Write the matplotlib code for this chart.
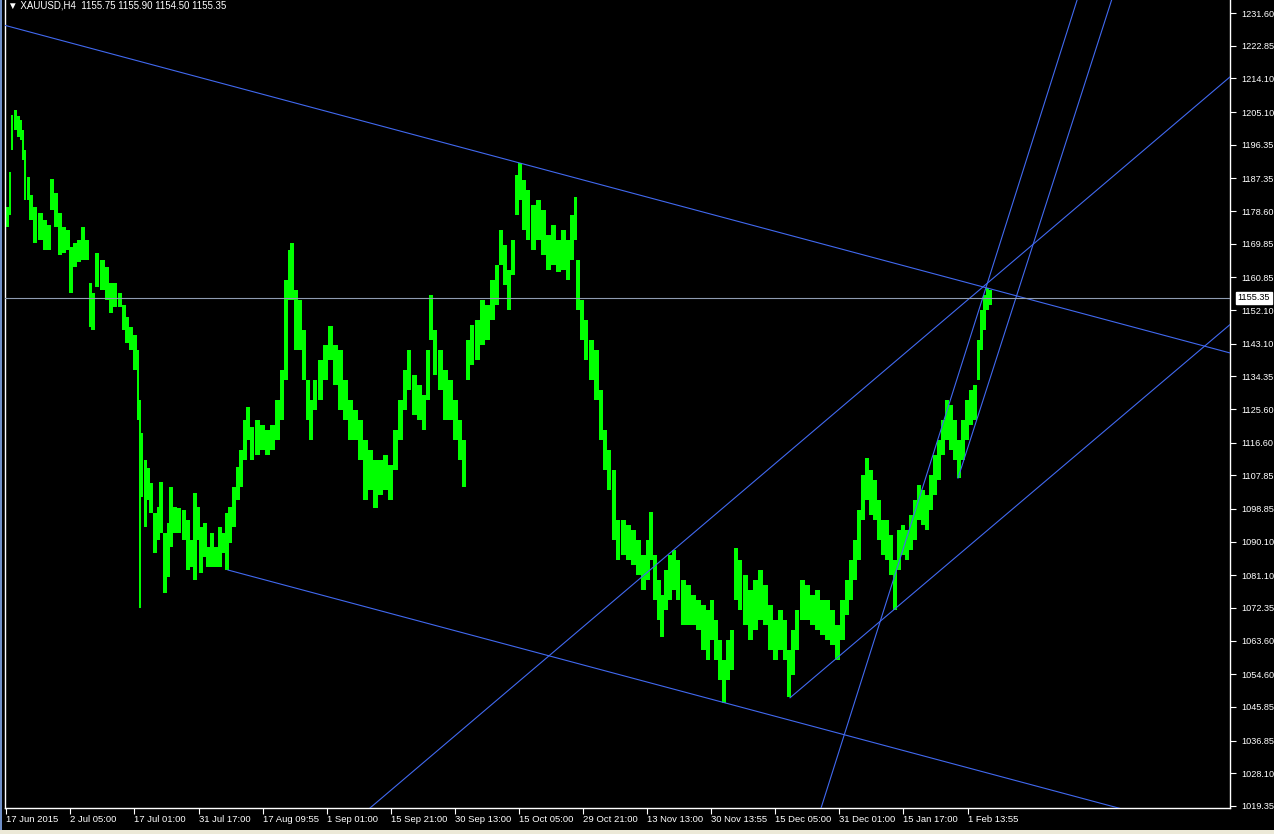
import numpy as np
import matplotlib
matplotlib.use('Agg')
import matplotlib.pyplot as plt
from matplotlib.patches import Rectangle

plt.rcParams['font.family'] = ['Liberation Sans', 'DejaVu Sans']

# bar position (chart pixel column), high and low of each bar group
bar_x = [7, 10, 12, 15, 18, 21, 23, 25, 28, 31, 35, 40, 45, 49, 52, 56, 60, 64, 68, 71,
         75, 79, 83, 87, 90, 93, 97, 102, 107, 111, 115, 120, 124, 127, 131, 135, 138, 140, 142, 145,
         148, 151, 155, 158, 161, 165, 168, 171, 175, 179, 184, 188, 191, 195, 198, 201, 205, 208, 212, 216,
         220, 223, 227, 230, 234, 238, 241, 245, 248, 252, 257, 262, 267, 272, 277, 282, 286, 289, 292, 296,
         300, 304, 308, 311, 315, 320, 325, 330, 335, 340, 345, 350, 355, 360, 365, 370, 375, 380, 385, 390,
         395, 400, 405, 409, 414, 419, 424, 428, 431, 435, 440, 445, 450, 455, 460, 464, 468, 472, 477, 482,
         487, 492, 497, 501, 505, 509, 513, 517, 520, 524, 528, 533, 538, 543, 548, 553, 558, 563, 568, 572,
         575, 578, 582, 586, 591, 596, 601, 605, 609, 614, 618, 623, 628, 633, 638, 643, 648, 651, 655, 659,
         662, 666, 670, 674, 678, 683, 688, 693, 698, 703, 708, 712, 716, 720, 724, 728, 732, 736, 740, 745,
         750, 755, 760, 765, 770, 775, 780, 785, 789, 793, 797, 802, 807, 812, 817, 822, 827, 832, 837, 842,
         847, 851, 855, 859, 863, 867, 871, 875, 879, 883, 887, 891, 895, 899, 903, 907, 911, 915, 919, 923,
         927, 931, 935, 939, 943, 947, 951, 955, 959, 963, 967, 971, 975, 978, 981, 984, 987, 990]
bar_high = [1179.7, 1189.0, 1204.3, 1205.6, 1204.0, 1203.0, 1200.3, 1194.9, 1187.7, 1182.9, 1179.7, 1178.1, 1176.2, 1174.9, 1187.2, 1183.4, 1178.1, 1174.3, 1173.5, 1169.0,
            1170.0, 1170.8, 1174.3, 1170.8, 1159.3, 1156.7, 1167.4, 1165.5, 1163.6, 1159.3, 1159.3, 1156.7, 1153.4, 1150.2, 1147.5, 1145.4, 1141.4, 1128.0, 1119.2, 1112.0,
            1109.8, 1105.8, 1097.8, 1099.4, 1106.1, 1092.4, 1095.1, 1104.7, 1099.4, 1099.1, 1098.6, 1095.9, 1090.5, 1103.1, 1099.4, 1094.0, 1095.1, 1088.7, 1092.4, 1088.7,
            1094.0, 1092.4, 1097.8, 1099.4, 1104.7, 1110.1, 1114.6, 1122.7, 1126.1, 1120.8, 1122.7, 1121.3, 1120.0, 1121.3, 1128.0, 1136.0, 1160.1, 1168.2, 1170.0, 1157.5,
            1154.8, 1146.7, 1133.4, 1128.0, 1133.4, 1138.7, 1142.7, 1147.7, 1142.7, 1141.4, 1133.4, 1128.0, 1125.3, 1122.7, 1117.3, 1114.6, 1112.0, 1112.0, 1113.3, 1110.6,
            1120.0, 1128.0, 1136.0, 1141.4, 1134.7, 1132.0, 1129.4, 1141.4, 1156.1, 1146.7, 1141.4, 1136.0, 1133.4, 1128.0, 1122.7, 1117.3, 1144.1, 1148.1, 1149.4, 1154.8,
            1153.4, 1160.1, 1164.1, 1173.5, 1169.5, 1162.8, 1170.8, 1188.2, 1191.5, 1186.9, 1184.2, 1180.2, 1181.5, 1178.9, 1172.2, 1174.9, 1170.8, 1173.5, 1170.8, 1177.5,
            1182.3, 1165.5, 1154.8, 1149.4, 1144.1, 1141.4, 1130.7, 1120.0, 1114.6, 1109.3, 1095.9, 1095.9, 1094.6, 1093.2, 1090.5, 1086.5, 1090.5, 1098.0, 1086.5, 1079.8,
            1075.8, 1082.5, 1086.5, 1087.9, 1085.2, 1079.8, 1078.5, 1075.8, 1074.5, 1073.1, 1071.8, 1074.5, 1069.2, 1063.8, 1058.5, 1063.8, 1066.5, 1088.4, 1085.2, 1081.2,
            1077.2, 1079.8, 1082.5, 1078.5, 1073.1, 1069.2, 1071.8, 1069.2, 1061.1, 1066.5, 1071.8, 1079.8, 1078.5, 1075.8, 1077.2, 1074.5, 1074.5, 1071.8, 1067.8, 1074.5,
            1079.8, 1085.2, 1090.5, 1098.6, 1107.9, 1112.5, 1109.3, 1106.6, 1101.3, 1095.9, 1095.9, 1091.9, 1085.2, 1093.2, 1094.6, 1093.2, 1097.2, 1101.3, 1105.3, 1103.9,
            1102.6, 1107.9, 1113.3, 1117.3, 1122.7, 1128.0, 1126.7, 1122.7, 1117.3, 1122.7, 1128.0, 1130.7, 1132.0, 1144.1, 1152.1, 1156.1, 1158.0, 1157.5]
bar_low = [1174.3, 1177.5, 1194.9, 1200.3, 1198.4, 1197.6, 1192.3, 1181.5, 1181.5, 1176.2, 1170.0, 1170.8, 1168.2, 1168.2, 1178.9, 1174.3, 1166.8, 1167.4, 1168.2, 1156.7,
           1163.6, 1165.0, 1165.5, 1165.5, 1147.5, 1146.7, 1158.3, 1157.5, 1154.8, 1151.3, 1152.9, 1152.9, 1146.7, 1143.3, 1141.4, 1136.0, 1122.7, 1072.3, 1102.1, 1094.0,
           1101.3, 1097.8, 1087.1, 1090.5, 1092.4, 1076.4, 1080.6, 1088.7, 1092.4, 1092.4, 1090.5, 1082.5, 1083.3, 1079.8, 1090.5, 1081.7, 1086.0, 1083.3, 1083.3, 1083.3,
           1083.3, 1087.1, 1082.5, 1089.7, 1094.0, 1101.3, 1104.7, 1112.0, 1117.3, 1112.0, 1113.3, 1114.6, 1113.3, 1114.6, 1117.3, 1122.7, 1133.4, 1154.8, 1154.8, 1141.4,
           1141.4, 1133.4, 1122.7, 1117.3, 1125.3, 1128.0, 1133.4, 1138.7, 1132.0, 1125.3, 1122.7, 1117.3, 1117.3, 1112.0, 1101.3, 1103.9, 1099.1, 1102.6, 1103.9, 1101.3,
           1109.3, 1117.3, 1125.3, 1130.7, 1124.0, 1122.7, 1120.0, 1128.0, 1144.1, 1134.7, 1130.7, 1122.7, 1122.7, 1117.3, 1112.0, 1104.7, 1133.4, 1137.4, 1138.7, 1142.7,
           1144.1, 1149.4, 1153.4, 1164.1, 1158.8, 1152.1, 1161.5, 1177.5, 1181.5, 1173.5, 1170.8, 1168.2, 1170.8, 1166.8, 1162.8, 1164.1, 1162.3, 1162.8, 1160.1, 1165.5,
           1170.8, 1152.1, 1144.1, 1138.7, 1133.4, 1128.0, 1117.3, 1109.3, 1103.9, 1090.5, 1085.2, 1086.5, 1085.2, 1083.9, 1081.2, 1077.2, 1079.8, 1085.2, 1074.5, 1069.2,
           1064.6, 1071.8, 1074.5, 1077.2, 1074.5, 1067.8, 1067.8, 1067.8, 1066.5, 1061.1, 1058.5, 1063.8, 1058.5, 1053.1, 1046.9, 1053.1, 1055.8, 1074.5, 1071.8, 1067.8,
           1063.8, 1066.5, 1069.2, 1067.8, 1061.1, 1058.5, 1061.1, 1058.5, 1048.5, 1054.4, 1061.1, 1069.2, 1069.2, 1067.8, 1066.5, 1065.1, 1063.8, 1062.4, 1058.5, 1063.8,
           1070.5, 1074.5, 1079.8, 1085.2, 1095.9, 1101.3, 1097.2, 1095.9, 1090.5, 1086.5, 1085.2, 1081.2, 1071.8, 1082.5, 1086.5, 1085.2, 1087.9, 1090.5, 1095.9, 1094.6,
           1093.2, 1098.6, 1102.6, 1106.6, 1113.3, 1117.3, 1114.6, 1112.0, 1107.1, 1112.0, 1117.3, 1121.3, 1122.7, 1133.4, 1141.4, 1146.7, 1152.1, 1153.4]

# drawn objects: trend lines (two anchor points each), bid line
lines_infinite = [((519, 1191.5), (987, 1158.0)),
                  ((370, 1018.8), (987, 1159.2)),
                  ((925, 1106.6), (1039, 1202.9))]
lines_ray = [((228, 1082.5), (1110, 1019.4)),
             ((790, 1048.3), (1230, 1148.2)),
             ((958, 1107.1), (1073, 1202.9))]
bid = 1155.35

price_ticks = [1231.60, 1222.85, 1214.10, 1205.10, 1196.35, 1187.35, 1178.60, 1169.85, 1160.85,
               1152.10, 1143.10, 1134.35, 1125.60, 1116.60, 1107.85, 1098.85, 1090.10, 1081.10,
               1072.35, 1063.60, 1054.60, 1045.85, 1036.85, 1028.10, 1019.35]
time_ticks = [6, 70, 134, 199, 263, 327, 391, 455, 519, 583, 647, 711, 775, 839, 903, 968]
time_labels = ['17 Jun 2015', '2 Jul 05:00', '17 Jul 01:00', '31 Jul 17:00', '17 Aug 09:55',
               '1 Sep 01:00', '15 Sep 21:00', '30 Sep 13:00', '15 Oct 05:00', '29 Oct 21:00',
               '13 Nov 13:00', '30 Nov 13:55', '15 Dec 05:00', '31 Dec 01:00', '15 Jan 17:00',
               '1 Feb 13:55']
title = '\u25bc XAUUSD,H4  1155.75 1155.90 1154.50 1155.35'

W, H = 1274, 834
fig = plt.figure(figsize=(W / 100, H / 100), dpi=100, facecolor='black')
ax = fig.add_axes([5 / W, 26 / H, 1225 / W, 808 / H])
ax.set_facecolor('black')
ax.set_xlim(5, 1230)
ax.set_ylim(1018.8, 1235.08)

x = np.array(bar_x, dtype=float)
hi = np.array(bar_high)
lo = np.array(bar_low)
w = np.gradient(x)
ax.bar(x, hi - lo, bottom=lo, width=w, color='#00ff00', linewidth=0, zorder=2)

blue = '#4169f0'
for p1, p2 in lines_infinite:
    ax.axline(p1, p2, color=blue, lw=0.8, zorder=3)
for (x1, y1), (x2, y2) in lines_ray:
    k = (y2 - y1) / (x2 - x1)
    ax.plot([x1, 3000], [y1, y1 + k * (3000 - x1)], color=blue, lw=0.8, zorder=3)
ax.axhline(bid, color='#8f9cb2', lw=0.8, zorder=3)

for s in ['left', 'right', 'bottom']:
    ax.spines[s].set_color('white')
    ax.spines[s].set_linewidth(1.0)
ax.spines['top'].set_visible(False)

ax.yaxis.tick_right()
ax.set_yticks(price_ticks)
ax.set_yticklabels(['%.2f' % v for v in price_ticks])
ax.tick_params(axis='y', colors='white', length=4, width=0.8, pad=4, labelsize=6.6)

ax.set_xticks(time_ticks)
ax.set_xticklabels(time_labels, ha='left')
ax.tick_params(axis='x', colors='white', length=4, width=0.8, pad=1, labelsize=6.8)
for lab in ax.get_xticklabels():
    lab.set_horizontalalignment('left')

# current price tag
ax.text(1.0060, bid, '%.2f' % bid, transform=ax.get_yaxis_transform(), fontsize=6.6,
        color='black', va='center', ha='left',
        bbox=dict(boxstyle='square,pad=0.2', fc='white', ec='white'), clip_on=False, zorder=5)

fig.text(8 / W, 1 - 8 / H, title, color='white', fontsize=7, va='baseline', ha='left')

# window frame pieces
fig.patches.append(Rectangle((0, 0), 2 / W, 1, transform=fig.transFigure, fc='#6f8fc8', ec='none'))
fig.patches.append(Rectangle((0, 0), 1, 4 / H, transform=fig.transFigure, fc='#ece9d8', ec='none'))

fig.savefig('out.png', dpi=100, facecolor='black')
